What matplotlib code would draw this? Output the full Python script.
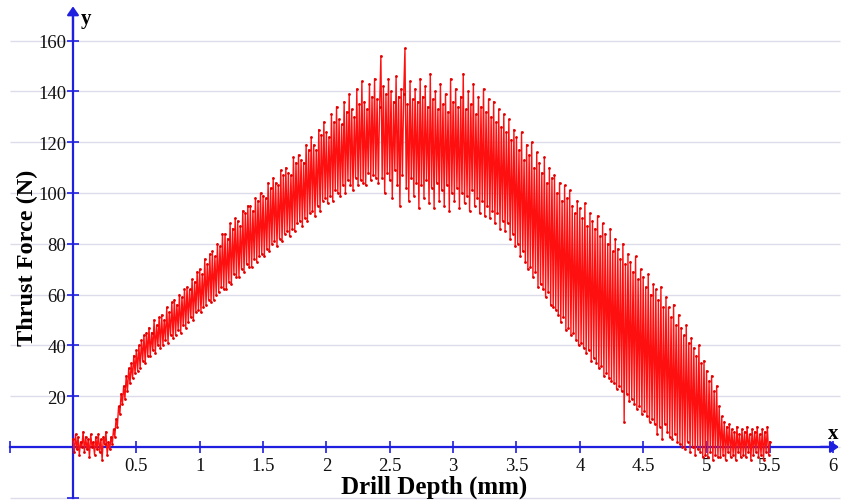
import numpy as np
import matplotlib
matplotlib.use("Agg")
import matplotlib.pyplot as plt

plt.rcParams['font.family'] = ['Liberation Serif', 'DejaVu Serif']

thrust_force = [
    3, -2, 5, -1, 4, -3, 2, 0, 6, -2,            # 0.0
    4, -1, 3, -4, 5, 0, 2, -3, 4, -1,            # 0.1
    5, -2, 3, -5, 4, 1, 6, -3, 2, -1,            # 0.2
    4, 1, 7, 4, 11, 8, 16, 13, 21, 17,           # 0.3
    24, 19, 28, 22, 31, 25, 33, 27, 36, 29,      # 0.4
    38, 30, 40, 31, 42, 34, 44, 33, 45, 36,      # 0.5
    47, 36, 45, 38, 50, 37, 48, 40, 51, 39,      # 0.6
    52, 40, 50, 42, 55, 41, 53, 44, 57, 43,      # 0.7
    58, 44, 56, 46, 60, 45, 59, 48, 62, 47,      # 0.8
    63, 49, 62, 51, 66, 50, 65, 53, 69, 54,      # 0.9
    70, 53, 68, 55, 74, 56, 72, 58, 76, 57,      # 1.0
    77, 58, 75, 60, 80, 61, 79, 63, 84, 62,      # 1.1
    84, 62, 82, 65, 88, 64, 86, 68, 90, 67,      # 1.2
    89, 67, 87, 70, 93, 69, 92, 72, 95, 71,      # 1.3
    95, 71, 93, 74, 98, 73, 97, 75, 100, 76,     # 1.4
    99, 75, 98, 78, 104, 77, 102, 80, 106, 81,   # 1.5
    104, 79, 103, 82, 109, 81, 107, 84, 110, 85, # 1.6
    108, 83, 107, 86, 114, 85, 112, 88, 115, 89, # 1.7
    113, 87, 112, 90, 119, 89, 117, 92, 122, 93, # 1.8
    119, 91, 117, 95, 125, 93, 123, 97, 128, 98, # 1.9
    124, 96, 122, 99, 131, 97, 128, 101, 134, 100,   # 2.0
    129, 99, 127, 103, 136, 100, 132, 105, 139, 103, # 2.1
    133, 101, 130, 106, 141, 103, 135, 105, 144, 104, # 2.2
    136, 103, 133, 108, 143, 105, 138, 107, 145, 106, # 2.3
    137, 104, 134, 154, 106, 142, 100, 139, 108, 145, # 2.4
    105, 140, 98, 136, 109, 146, 103, 138, 95, 141,   # 2.5
    107, 139, 157, 102, 135, 97, 144, 106, 137, 99,   # 2.6
    141, 104, 136, 94, 145, 103, 138, 98, 142, 105,   # 2.7
    134, 96, 147, 102, 137, 94, 140, 104, 133, 97,    # 2.8
    143, 101, 135, 95, 139, 103, 132, 93, 145, 100,   # 2.9
    136, 97, 141, 102, 134, 94, 138, 100, 147, 96,    # 3.0
    133, 99, 140, 93, 135, 101, 143, 95, 131, 98,     # 3.1
    138, 92, 134, 97, 141, 91, 132, 95, 137, 90,      # 3.2
    130, 93, 136, 88, 128, 92, 133, 86, 126, 89,      # 3.3
    131, 85, 124, 88, 129, 82, 121, 84, 125, 79,      # 3.4
    122, 80, 117, 75, 124, 77, 113, 73, 119, 70,      # 3.5
    115, 71, 120, 67, 110, 69, 116, 63, 112, 64,      # 3.6
    108, 62, 114, 59, 104, 61, 110, 56, 106, 55,      # 3.7
    107, 54, 100, 52, 104, 49, 97, 51, 103, 46,       # 3.8
    98, 47, 101, 44, 95, 45, 92, 42, 97, 40,          # 3.9
    94, 41, 90, 39, 96, 37, 87, 38, 92, 34,           # 4.0
    89, 35, 86, 33, 91, 31, 83, 32, 88, 28,           # 4.1
    84, 29, 80, 27, 86, 26, 77, 25, 82, 23,           # 4.2
    78, 24, 74, 22, 80, 10, 72, 21, 76, 18,           # 4.3
    73, 19, 69, 17, 75, 15, 66, 16, 70, 13,           # 4.4
    67, 14, 63, 12, 68, 10, 60, 11, 64, 9,            # 4.5
    62, 5, 58, 8, 63, 3, 55, 9, 59, 6,                # 4.6
    55, 4, 51, 3, 56, 5, 48, 2, 52, 1,                # 4.7
    47, 0, 44, -1, 48, 2, 41, -2, 43, 0,              # 4.8
    39, -3, 36, -1, 40, -2, 33, -4, 34, -3,           # 4.9
    30, -4, 26, -2, 28, -5, 22, -3, 24, -4,           # 5.0
    16, -4, 12, -3, 10, -5, 8, -2, 9, -4,             # 5.1
    7, -3, 6, -5, 8, -2, 5, -4, 7, -3,                # 5.2
    6, -4, 8, -2, 5, -5, 7, -3, 6, -2,                # 5.3
    8, -4, 5, -3, 7, -5, 6, -2, 8, -3,                # 5.4
    2,                                                # 5.5
]
depth_step = 0.01
drill_depth = np.round(np.arange(len(thrust_force)) * depth_step, 2)

x_ticks = [-0.5, 0.5, 1, 1.5, 2, 2.5, 3, 3.5, 4, 4.5, 5, 5.5, 6]
x_tick_labels = ['', '0.5', '1', '1.5', '2', '2.5', '3', '3.5', '4', '4.5', '5', '5.5', '6']
y_ticks = [-20, 20, 40, 60, 80, 100, 120, 140, 160]
y_tick_labels = ['', '20', '40', '60', '80', '100', '120', '140', '160']
grid_levels = [-20, 0, 20, 40, 60, 80, 100, 120, 140, 160]

axis_blue = '#1f1fe0'

fig = plt.figure(figsize=(8.44, 5.02), dpi=100)
ax = fig.add_axes([0, 0, 1, 1])
ax.set_xlim(-0.576, 6.085)
ax.set_ylim(-21.3, 176.4)
ax.patch.set_visible(False)

# grid lines
ax.hlines(grid_levels, -0.5, 6.05, colors='#dcdcea', linewidth=1.0, zorder=1)

# data
ax.plot(drill_depth, thrust_force, color='#ff1010', linewidth=1.0,
        marker='o', markersize=2.0, markerfacecolor='#e00000', markeredgecolor='#e00000',
        markeredgewidth=0, zorder=4)

# spines as axes through origin
for side in ['top', 'right']:
    ax.spines[side].set_visible(False)
ax.spines['left'].set_position(('data', 0))
ax.spines['bottom'].set_position(('data', 0))
ax.spines['left'].set_bounds(-20, 170)
ax.spines['bottom'].set_bounds(-0.5, 5.95)
for side in ['left', 'bottom']:
    ax.spines[side].set_color(axis_blue)
    ax.spines[side].set_linewidth(1.6)
    ax.spines[side].set_zorder(3)

ax.set_xticks(x_ticks)
ax.set_xticklabels(x_tick_labels)
ax.set_yticks(y_ticks)
ax.set_yticklabels(y_tick_labels)
ax.tick_params(axis='both', direction='inout', length=8, width=1.2,
               color=axis_blue, labelsize=13.5, labelcolor='#111111')
ax.tick_params(axis='x', pad=3)
ax.tick_params(axis='y', pad=1)

# arrow heads
ax.annotate('', xy=(6.045, 0), xytext=(5.9, 0),
            arrowprops=dict(arrowstyle='-|>,head_length=0.5,head_width=0.35',
                            color=axis_blue, lw=1.6, shrinkA=0, shrinkB=0),
            zorder=5)
ax.annotate('', xy=(0, 173.5), xytext=(0, 160),
            arrowprops=dict(arrowstyle='-|>,head_length=0.5,head_width=0.35',
                            color=axis_blue, lw=1.6, shrinkA=0, shrinkB=0),
            zorder=5)

ax.text(6.0, 5.5, 'x', fontsize=15, fontweight='bold', ha='center', va='center')
ax.text(0.1, 169, 'y', fontsize=15, fontweight='bold', ha='center', va='center')

fig.text(434 / 844, 1 - 487 / 502, 'Drill Depth (mm)', fontsize=18, fontweight='bold',
         ha='center', va='center')
fig.text(27 / 844, 1 - 258 / 502, 'Thrust Force (N)', fontsize=17.5, fontweight='bold',
         ha='center', va='center', rotation=90)

fig.savefig('out.png', dpi=100)
